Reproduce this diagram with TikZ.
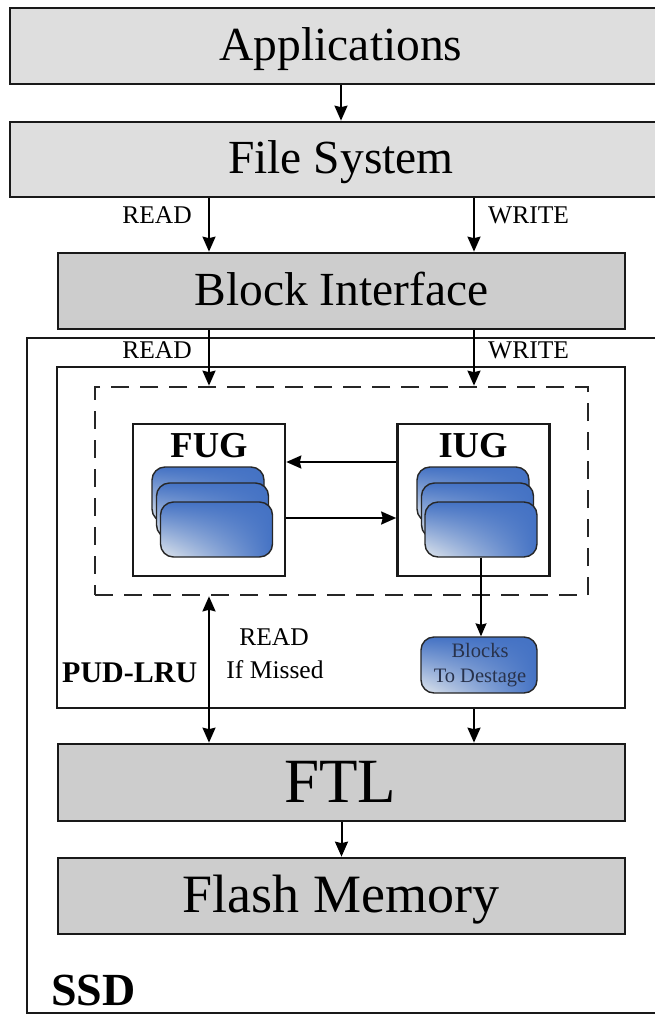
\documentclass[tikz,border=0pt]{standalone}
\usepackage{fontspec}
\setmainfont{Liberation Serif}
\usetikzlibrary{arrows.meta,shadings}

\definecolor{appgray}{RGB}{222,222,222}
\definecolor{layergray}{RGB}{205,205,205}
\definecolor{cacheblue}{RGB}{68,114,196}
\definecolor{cachelight}{RGB}{224,230,236}
\definecolor{inkblue}{RGB}{40,50,75}

\newcommand\fsz[1]{\fontsize{#1}{#1}\selectfont}

\begin{document}
\begin{tikzpicture}[x=1pt,y=-1pt,
  layerbox/.style={draw=black!90, line width=2.7pt, minimum height=76pt, inner sep=0pt},
  framebox/.style={draw=black!90, line width=2.2pt, inner sep=0pt},
  dashbox/.style={draw=black!85, line width=2.7pt, dash pattern=on 18pt off 11pt, inner sep=0pt},
  groupbox/.style={draw=black!90, fill=white, line width=2.6pt, minimum width=152pt, minimum height=152pt, inner sep=0pt},
  cacheblk/.style={draw=black!85, line width=1.4pt, rounded corners=13pt,
    upper left=cacheblue, upper right=cacheblue, lower right=cacheblue, lower left=cachelight,
    minimum width=112pt, minimum height=55pt, inner sep=0pt},
  txt/.style={inner sep=0pt, anchor=base},
  tip/.tip={Stealth[length=15pt,width=13pt,inset=1.5pt]},
  arr/.style={line width=2pt, -tip},
  dblarr/.style={line width=2pt, tip-tip},
  thinarr/.style={line width=1.4pt, -{Stealth[length=13pt,width=11pt,inset=1.5pt]}}
]
\useasboundingbox (0,0) rectangle (655,1015);
\clip (0,0) rectangle (655,1015);
\fill[white] (0,0) rectangle (655,1015);

% host-side layers
\node[layerbox, fill=appgray, minimum width=662pt] (app) at (341,46) {};
\node[layerbox, fill=appgray, minimum width=662pt, minimum height=75pt] (fs) at (341,159.5) {};
\node[layerbox, fill=layergray, minimum width=567pt] (bi) at (341.5,291) {};

% SSD enclosure and buffer
\node[framebox, minimum width=663pt, minimum height=675pt] (ssd) at (358.5,675.5) {};
\node[framebox, line width=2.6pt, minimum width=568pt, minimum height=341pt] (pud) at (341,537.5) {};
\node[dashbox, minimum width=493pt, minimum height=208pt] (cache) at (341.5,491) {};

% block groups
\node[groupbox] (fug) at (209,500) {};
\node[groupbox] (iug) at (473.5,500) {};

\node[cacheblk] (fugA) at (208,494.5) {};
\node[cacheblk] (fugB) at (212.5,510.5) {};
\node[cacheblk] (fugC) at (216.5,529.5) {};
\node[cacheblk] (iugA) at (473,494.5) {};
\node[cacheblk] (iugB) at (477.5,510.5) {};
\node[cacheblk] (iugC) at (481,529.5) {};

\node[cacheblk, minimum width=116pt, minimum height=56pt] (dest) at (479,665) {};

% device-side layers
\node[layerbox, fill=layergray, minimum width=567pt, minimum height=77pt] (ftl) at (341.5,782.5) {};
\node[layerbox, fill=layergray, minimum width=567pt] (flash) at (341.5,896) {};

% texts
\node[txt, font=\fsz{47.5}] (appT) at (341,60) {Applications};
\node[txt, font=\fsz{47.5}] (fsT) at (341,173) {File System};
\node[txt, font=\fsz{47.5}] (biT) at (341.5,305) {Block Interface};
\node[txt, font=\fsz{63}] (ftlT) at (340,802) {FTL};
\node[txt, font=\fsz{54}] (flashT) at (341,912) {Flash Memory};

\node[txt, font=\fsz{25.5}, anchor=base east] (rd1) at (192,223) {READ};
\node[txt, font=\fsz{25.5}, anchor=base west] (wr1) at (488,223) {WRITE};
\node[txt, font=\fsz{25.5}, anchor=base east] (rd2) at (192,358) {READ};
\node[txt, font=\fsz{25.5}, anchor=base west] (wr2) at (488,358) {WRITE};

\node[txt, font=\bfseries\fsz{36.5}] (fugT) at (209,457) {FUG};
\node[txt, font=\bfseries\fsz{36.5}] (iugT) at (473,457) {IUG};

\node[txt, font=\fsz{25.5}] (missA) at (274,645) {READ};
\node[txt, font=\fsz{25.5}] (missB) at (275,678) {If Missed};

\node[txt, font=\bfseries\fsz{30}, anchor=base west] (pudT) at (62,682) {PUD-LRU};
\node[txt, font=\bfseries\fsz{46}, anchor=base west] (ssdT) at (51,1005) {SSD};

\node[txt, font=\fsz{20.5}, text=inkblue] (destA) at (480,657) {Blocks};
\node[txt, font=\fsz{20.5}, text=inkblue] (destB) at (480,682) {To Destage};

% connectors
\coordinate (colL) at (209,0);
\coordinate (colR) at (474,0);
\coordinate (rowA) at (0,462);
\coordinate (rowB) at (0,518);

\draw[arr] (app.south) -- (fs.north);
\draw[arr] (fs.south -| colL) -- (bi.north -| colL);
\draw[arr] (fs.south -| colR) -- (bi.north -| colR);
\draw[arr] (bi.south -| colL) -- (cache.north -| colL);
\draw[arr] (bi.south -| colR) -- (cache.north -| colR);
\draw[arr] (iug.west |- rowA) -- (fug.east |- rowA);
\draw[arr] (fug.east |- rowB) -- (iug.west |- rowB);
\draw[thinarr] (iugC.south) -- (dest.north -| iugC.south);
\draw[dblarr] (cache.south -| colL) -- (ftl.north -| colL);
\draw[arr] (pud.south -| colR) -- (ftl.north -| colR);
\draw[arr] (ftl.south) -- (flash.north);
\end{tikzpicture}
\end{document}
